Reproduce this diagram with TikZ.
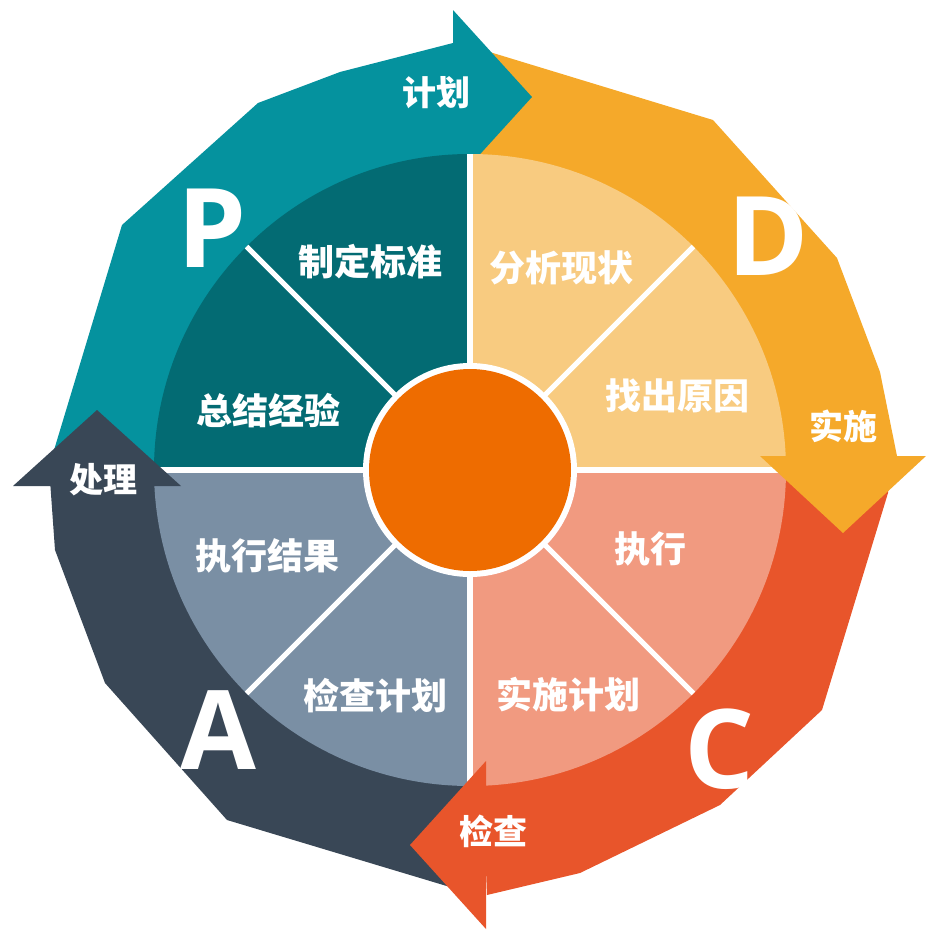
\documentclass[tikz,border=0pt]{standalone}
\usepackage{fontspec}
\newfontfamily\cjkfont{Noto Sans CJK SC}
\setsansfont{Open Sans}
\definecolor{plancol}{HTML}{05929E}
\definecolor{plansec}{HTML}{036B73}
\definecolor{docol}{HTML}{F5A92A}
\definecolor{dosec}{HTML}{F8CB80}
\definecolor{checkcol}{HTML}{E8552B}
\definecolor{checksec}{HTML}{F19A80}
\definecolor{actcol}{HTML}{394756}
\definecolor{actsec}{HTML}{7A8FA4}
\definecolor{hubcol}{HTML}{EE6C00}
\begin{document}
\begin{tikzpicture}[x=1pt,y=-1pt,inner sep=0pt,outer sep=0pt,
cjklabel/.style={text=white,font=\cjkfont\bfseries\fontsize{36}{36}\selectfont},
arrowlabel/.style={cjklabel,font=\cjkfont\bfseries\fontsize{34}{34}\selectfont},
bigletter/.style={text=white,font=\sffamily\bfseries\fontsize{110}{110}\selectfont},
divider/.style={draw=white,line width=6pt}]
\useasboundingbox (0,0) rectangle (926,930);
\coordinate (O) at (470,470);

% arrow bodies
\fill[plancol] (O) -- (48,470) -- (122,225) -- (258,103) -- (340,72) -- (453,43) -- (453,160) -- cycle;
\fill[docol] (O) -- (470,46) -- (713,120) -- (837,258) -- (880,372) -- (897,456) -- cycle;
\fill[checkcol] (O) -- (891,468) -- (888,493) -- (822,710) -- (720,805) -- (580,873) -- (487,895) -- cycle;
\fill[actcol] (O) -- (50,480) -- (55,550) -- (105,683) -- (227,820) -- (450,887) -- (478,893) -- cycle;
\fill[plancol] (453,10) -- (532,97) -- (453,184) -- cycle;

% quadrants
\fill[plansec] (O) -- ++(-316,0) arc[start angle=180,end angle=270,radius=316] -- cycle;
\fill[dosec] (O) -- ++(0,-316) arc[start angle=270,end angle=360,radius=316] -- cycle;
\fill[checksec] (O) -- ++(316,0) arc[start angle=0,end angle=90,radius=316] -- cycle;
\fill[actsec] (O) -- ++(0,316) arc[start angle=90,end angle=180,radius=316] -- cycle;
\draw[divider] (470,154) -- (470,786);
\draw[divider] (154,470) -- (786,470);
\draw[divider,line width=5pt] (246.6,246.6) -- (693.4,693.4);
\draw[divider,line width=5pt] (693.4,246.6) -- (246.6,693.4);
\fill[white] (O) circle[radius=107];
\fill[hubcol] (O) circle[radius=101];

% arrow heads
\fill[docol] (760,456) -- (926,456) -- (843,533) -- cycle;
\fill[checkcol] (486,761) -- (410,845) -- (486,929) -- cycle;
\fill[actcol] (97,410) -- (13,486) -- (181,486) -- cycle;

\node[bigletter] (P) at (212,228) {P};
\node[bigletter] (D) at (768,236) {D};
\node[bigletter] (C) at (720,749) {C};
\node[bigletter] (A) at (218,730) {A};

\node[arrowlabel] (plan) at (436,93) {计划};
\node[arrowlabel] (do) at (843,426) {实施};
\node[arrowlabel] (check) at (493,831) {检查};
\node[arrowlabel] (act) at (103,480) {处理};

\node[cjklabel] (standard) at (370,262) {制定标准};
\node[cjklabel] (summary) at (268,411) {总结经验};
\node[cjklabel] (analyse) at (561,268) {分析现状};
\node[cjklabel] (cause) at (677,396) {找出原因};
\node[cjklabel] (execute) at (650,549) {执行};
\node[cjklabel] (carryout) at (568,695) {实施计划};
\node[cjklabel] (result) at (267,556) {执行结果};
\node[cjklabel] (review) at (375,696) {检查计划};
\end{tikzpicture}
\end{document}
